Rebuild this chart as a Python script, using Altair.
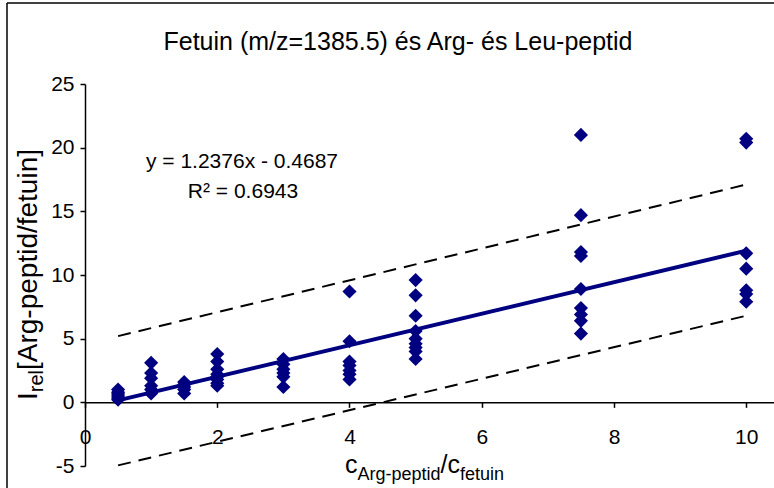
import altair as alt
import pandas as pd

# ---- data ----
conc = [0.5, 1, 1.5, 2, 3, 4, 5, 7.5, 10]
irel_05 = [0.2, 0.35, 0.5, 0.65, 0.8, 1.0]
irel_1 = [3.1, 2.3, 1.9, 1.3, 1.0, 0.7]
irel_15 = [1.6, 1.4, 1.2, 1.0, 0.7]
irel_2 = [3.8, 3.2, 2.6, 2.2, 2.0, 1.8, 1.5, 1.3]
irel_3 = [3.4, 3.0, 2.6, 2.3, 2.0, 1.2]
irel_4 = [8.7, 4.8, 3.2, 2.9, 2.5, 2.2, 1.8]
irel_5 = [9.6, 8.4, 6.8, 5.6, 5.0, 4.6, 4.3, 4.0, 3.4]
irel_75 = [21.0, 14.7, 11.8, 11.5, 8.9, 7.4, 6.9, 6.4, 5.4]
irel_10 = [20.7, 20.4, 11.7, 10.5, 8.8, 8.5, 7.9]
groups = [irel_05, irel_1, irel_15, irel_2, irel_3, irel_4, irel_5, irel_75, irel_10]

trend_x = [0.5, 10]
trend_y = [0.15, 11.91]
upper_y = [5.2, 17.1]
lower_y = [-4.95, 6.8]

x_ticks = [0, 2, 4, 6, 8, 10]
y_ticks = [-5, 0, 5, 10, 15, 20, 25]

title_text = "Fetuin (m/z=1385.5) és Arg- és Leu-peptid"
eq_line1 = "y = 1.2376x - 0.4687"
eq_line2 = "R² = 0.6943"

# ---- build tables ----
pts = pd.DataFrame(
    [{"c": c, "I": v} for c, g in zip(conc, groups) for v in g]
)
trend = pd.DataFrame({"c": trend_x, "I": trend_y})
upper = pd.DataFrame({"c": trend_x, "I": upper_y})
lower = pd.DataFrame({"c": trend_x, "I": lower_y})
one = pd.DataFrame({"a": [0]})

FONT = "Liberation Sans"
NAVY = "#000080"
W, H = 689, 382
ymin, ymax = -5, 25
zero_px = H * ymax / (ymax - ymin)  # pixel of y=0 from top

xs = alt.Scale(domain=[0, 10.42], nice=False, zero=False)
ys = alt.Scale(domain=[ymin, ymax], nice=False)

x_axis = alt.Axis(
    values=x_ticks, title=None, grid=False, offset=zero_px - H,
    domainColor="black", domainWidth=1.5, tickColor="black", tickWidth=1.5,
    tickSize=5, labelPadding=19, labelFontSize=21, labelFont=FONT,
    labelColor="black", labelFlush=False, labelOverlap=False,
    labelExpr="'' + datum.value",
)
y_axis = alt.Axis(
    values=y_ticks, title=None, grid=False,
    domainColor="black", domainWidth=1.5, tickColor="black", tickWidth=1.5,
    tickSize=5, labelPadding=6, labelFontSize=21, labelFont=FONT,
    labelColor="black", labelFlush=False, labelOverlap=False,
    labelExpr="'' + datum.value",
)

X = alt.X("c:Q", scale=xs, axis=x_axis)
Y = alt.Y("I:Q", scale=ys, axis=y_axis)

points = alt.Chart(pts).mark_point(
    shape="diamond", filled=True, color=NAVY, size=200, opacity=1
).encode(x=X, y=Y)

trend_line = alt.Chart(trend).mark_line(color=NAVY, strokeWidth=4).encode(x=X, y=Y)
up_line = alt.Chart(upper).mark_line(color="black", strokeWidth=2, strokeDash=[13, 8]).encode(x=X, y=Y)
lo_line = alt.Chart(lower).mark_line(color="black", strokeWidth=2, strokeDash=[13, 8]).encode(x=X, y=Y)


def txt(text, x, y, size, align="left", angle=0, baseline="alphabetic"):
    kw = dict(text=text, font=FONT, fontSize=size, color="black", align=align, baseline=baseline)
    if angle:
        kw["angle"] = angle
    return alt.Chart(one).mark_text(**kw).encode(x=alt.value(x), y=alt.value(y))


# title
title = txt(title_text, 313, -42, 25, align="center", baseline="middle")
# equation
eq1 = txt(eq_line1, 157, 78, 21, align="center", baseline="middle")
eq2 = txt(eq_line2, 158, 108, 21, align="center", baseline="middle")

# x axis title: c_{Arg-peptid}/c_{fetuin}
xb, xsb = 389, 396
xt = [
    txt("c", 260, xb, 25),
    txt("Arg-peptid", 272.5, xsb, 18),
    txt("/", 355.5, xb, 25),
    txt("c", 362.5, xb, 25),
    txt("fetuin", 375, xsb, 18),
]

# y axis title: I_{rel}[Arg-peptid/fetuin] rotated
yb, ysb = -48, -42
y0 = 316
yt = [
    txt("I", yb, y0, 28, angle=270),
    txt("rel", ysb, y0 - 7.8, 20, angle=270),
    txt("[Arg-peptid/fetuin]", yb, y0 - 7.8 - 22.2, 28, angle=270),
]

# outer frame (left and top border)
frame_left = alt.Chart(one).mark_rule(color="black", strokeWidth=1.5).encode(
    x=alt.value(-78), y=alt.value(-81), y2=alt.value(404)
)
frame_top = alt.Chart(one).mark_rule(color="black", strokeWidth=1.5).encode(
    x=alt.value(-78), x2=alt.value(W), y=alt.value(-81)
)

chart = alt.layer(
    frame_left, frame_top, up_line, lo_line, trend_line, points,
    title, eq1, eq2, *xt, *yt
).properties(
    width=W, height=H,
    autosize=alt.AutoSizeParams(type="none"),
    padding={"left": 85, "top": 84, "right": 0, "bottom": 22},
    background="white",
).configure_view(stroke=None)

chart.save("out.html", embed_options={"renderer": "svg", "actions": False})
